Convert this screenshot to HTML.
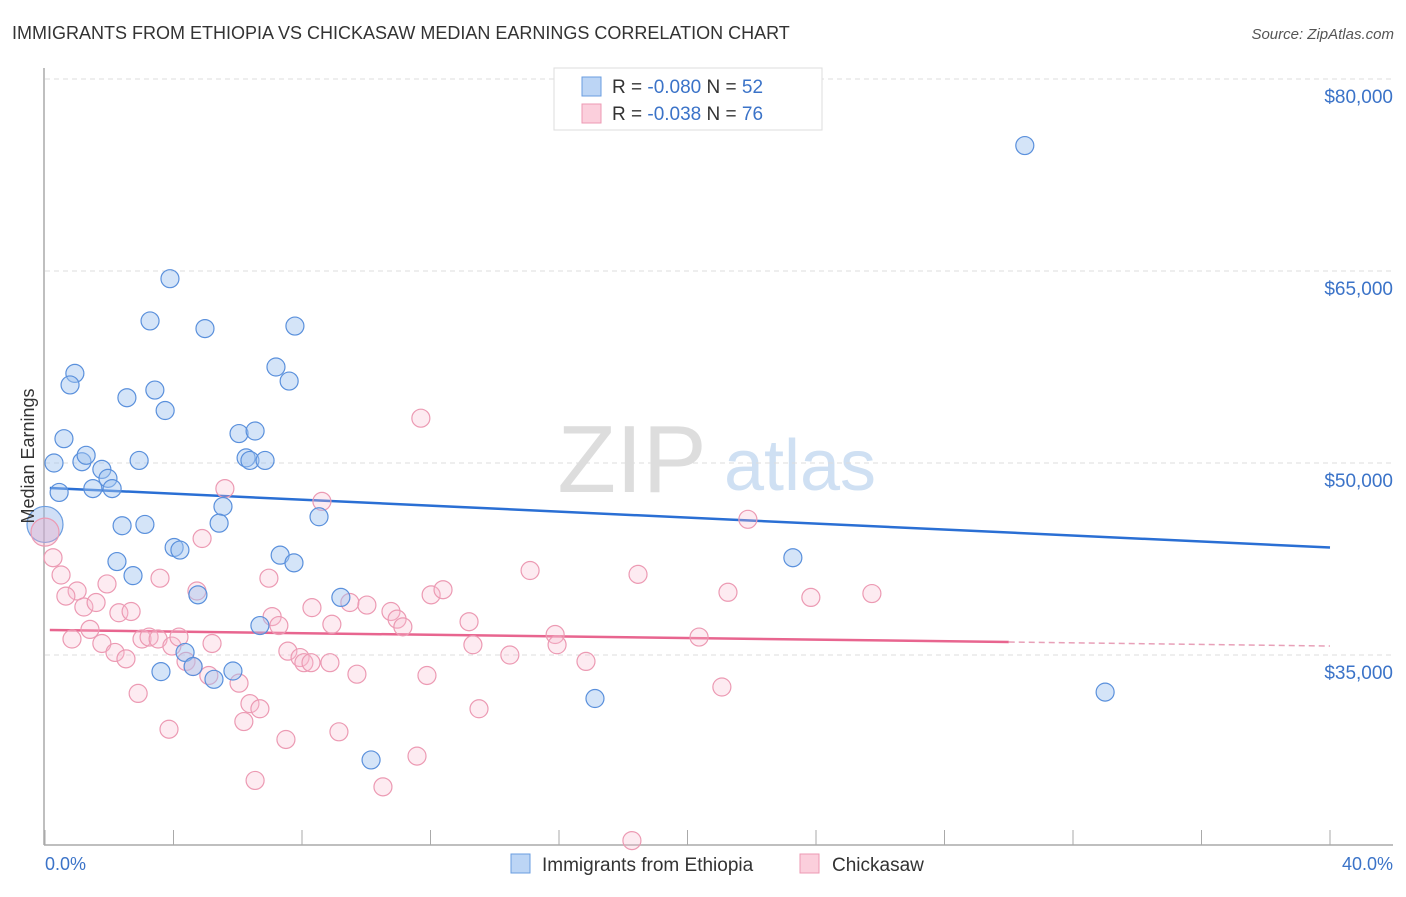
<!DOCTYPE html>
<html><head><meta charset="utf-8"><style>
body{margin:0;background:#fff;font-family:"Liberation Sans",sans-serif}
svg text{font-family:"Liberation Sans",sans-serif}
</style></head><body>
<svg id="c" width="1406" height="892">
<text x="12" y="39" font-size="18" fill="#333">IMMIGRANTS FROM ETHIOPIA VS CHICKASAW MEDIAN EARNINGS CORRELATION CHART</text>
<text x="1394" y="39" font-size="15" fill="#555" font-style="italic" text-anchor="end">Source: ZipAtlas.com</text>
<g><text x="632" y="492" font-size="96" fill="#ddd" font-family="Liberation Serif" text-anchor="middle">ZIP</text><text x="800" y="490" font-size="72" fill="#cfe0f3" text-anchor="middle">atlas</text></g>
<g id="grid"></g><g id="axes"></g><g id="trend"></g><g id="pts"></g>
<text transform="translate(34,456) rotate(-90)" font-size="18" fill="#333" text-anchor="middle">Median Earnings</text>
<text x="45" y="870" font-size="18" fill="#3b73c8">0.0%</text>
<text x="1393" y="870" font-size="18" fill="#3b73c8" text-anchor="end">40.0%</text>
<g>
<rect x="554" y="68" width="268" height="62" fill="#fff" stroke="#ddd"/>
<rect x="582" y="77" width="19" height="19" fill="#bcd5f5" stroke="#6a9de0"/>
<rect x="582" y="104" width="19" height="19" fill="#fbcfdc" stroke="#ec9ab3"/>
<text x="612" y="93" font-size="19" fill="#333">R = <tspan fill="#3b73c8">-0.080</tspan>   N = <tspan fill="#3b73c8">52</tspan></text>
<text x="612" y="120" font-size="19" fill="#333">R = <tspan fill="#3b73c8">-0.038</tspan>   N = <tspan fill="#3b73c8">76</tspan></text>
</g>
<g>
<rect x="511" y="854" width="19" height="19" fill="#bcd5f5" stroke="#6a9de0"/>
<text x="542" y="871" font-size="19" fill="#333">Immigrants from Ethiopia</text>
<rect x="800" y="854" width="19" height="19" fill="#fbcfdc" stroke="#ec9ab3"/>
<text x="832" y="871" font-size="19" fill="#333">Chickasaw</text>
</g>
</svg>
<script>
const yTicks=[35000,50000,65000,80000];
const xTicks=[0,4,8,12,16,20,24,28,32,36,40];
const blueX=[30.5,3.89,3.27,4.98,7.78,7.19,7.6,0.93,0.78,3.42,2.55,3.74,0.59,6.04,6.54,0.28,1.15,1.28,2.93,6.26,6.38,6.85,1.77,1.96,1.49,2.09,0.44,5.54,5.42,8.53,2.4,3.11,4.02,4.2,2.24,7.32,7.75,23.28,2.74,4.76,9.21,6.69,4.36,4.61,3.61,5.85,5.26,17.12,33.0,10.15];
const blueY=[74.8,64.4,61.1,60.5,60.7,57.5,56.4,57.0,56.1,55.7,55.1,54.1,51.9,52.3,52.5,50.0,50.1,50.6,50.2,50.4,50.2,50.2,49.5,48.8,48.0,48.0,47.7,46.6,45.3,45.8,45.1,45.2,43.4,43.2,42.3,42.8,42.2,42.6,41.2,39.7,39.5,37.3,35.2,34.1,33.7,33.75,33.1,31.6,32.1,26.8];
const pinkX=[11.7,5.6,8.62,21.88,4.89,0.25,0.5,3.58,15.1,18.46,6.97,1.93,1.0,0.65,1.21,1.59,2.3,2.68,1.4,0.84,1.77,2.18,2.52,3.02,3.24,3.52,3.95,4.17,2.9,3.86,4.73,4.39,4.61,5.1,5.2,6.04,6.38,6.69,6.19,6.54,7.5,7.07,7.28,7.56,7.94,8.06,8.28,8.87,8.31,8.93,9.15,9.71,9.49,10.02,10.77,10.96,11.14,12.02,12.39,11.58,10.52,11.89,13.2,13.32,13.51,14.47,15.88,15.94,16.84,21.26,23.84,25.74,20.36,21.07,18.27];
const pinkY=[53.5,48.0,47.0,45.6,44.1,42.6,41.25,41.0,41.6,41.3,41.0,40.55,40.0,39.6,38.75,39.1,38.3,38.4,37.0,36.25,35.9,35.2,34.7,36.25,36.4,36.25,35.7,36.4,32.0,29.2,40.0,34.5,34.1,33.4,35.9,32.8,31.2,30.8,29.8,25.2,28.4,38.0,37.3,35.3,34.8,34.4,34.4,34.4,38.7,37.4,29.0,33.5,39.1,38.9,38.4,37.8,37.2,39.7,40.1,27.1,24.7,33.4,37.6,35.8,30.8,35.0,36.6,35.8,34.5,39.9,39.5,39.8,36.4,32.5,20.5];
const bigBlue=[0,45.2], bigPink=[0,44.6];
const blueTrend=[48.05,43.4], pinkTrend=[36.95,35.7];
const NS='http://www.w3.org/2000/svg';
const X=p=>45+p*32.125, Y=k=>79+(80-k)*12.8;
function mk(t,a,parent){const e=document.createElementNS(NS,t);for(const k in a)e.setAttribute(k,a[k]);document.getElementById(parent).appendChild(e);return e;}
yTicks.forEach(v=>{
 const l=mk('line',{x1:45,x2:1393,y1:Y(v/1000),y2:Y(v/1000),stroke:'#ddd','stroke-dasharray':'5,4'},'grid');
 
 
 const t=mk('text',{x:1393,y:Y(v/1000)+24,'font-size':19,fill:'#3b73c8','text-anchor':'end'},'grid');
 t.textContent='$'+v.toLocaleString('en-US');
 
 
});
let a=mk('line',{x1:44,x2:44,y1:68,y2:845,stroke:'#aaa','stroke-width':1.5},'axes');


a=mk('line',{x1:44,x2:1393,y1:845,y2:845,stroke:'#aaa','stroke-width':1.5},'axes');


xTicks.forEach(p=>{const t=mk('line',{x1:X(p),x2:X(p),y1:830,y2:845,stroke:'#aaa'},'axes');
 
 });
function dot(x,y,r,f,s,name){const c=mk('circle',{cx:X(x),cy:Y(y),r:r,fill:f,stroke:s,'stroke-width':1.2},'pts');
 
 }
dot(bigBlue[0],bigBlue[1],18,'rgba(150,185,235,0.45)','#6a9de0','ethiopia-point-large');
dot(bigPink[0],bigPink[1],14,'rgba(245,170,195,0.35)','#ec9ab3','chickasaw-point-large');
pinkX.forEach((x,i)=>dot(x,pinkY[i],9,'rgba(248,190,208,0.3)','#ec9ab3','chickasaw-point'));
blueX.forEach((x,i)=>dot(x,blueY[i],9,'rgba(160,195,240,0.45)','#5a90dc','ethiopia-point'));
let l=mk('line',{x1:X(0.15),x2:X(40),y1:Y(blueTrend[0]),y2:Y(blueTrend[1]),stroke:'#2a6fd4','stroke-width':2.5},'trend');


const pm=p=>pinkTrend[0]+(pinkTrend[1]-pinkTrend[0])*p/40;
l=mk('line',{x1:X(0.15),x2:X(30),y1:Y(pm(0)),y2:Y(pm(30)),stroke:'#e8658f','stroke-width':2.5},'trend');


l=mk('line',{x1:X(30),x2:X(40),y1:Y(pm(30)),y2:Y(pm(40)),stroke:'#e8a0b8','stroke-width':1.5,'stroke-dasharray':'6,4'},'trend');


</script>
</body></html>
